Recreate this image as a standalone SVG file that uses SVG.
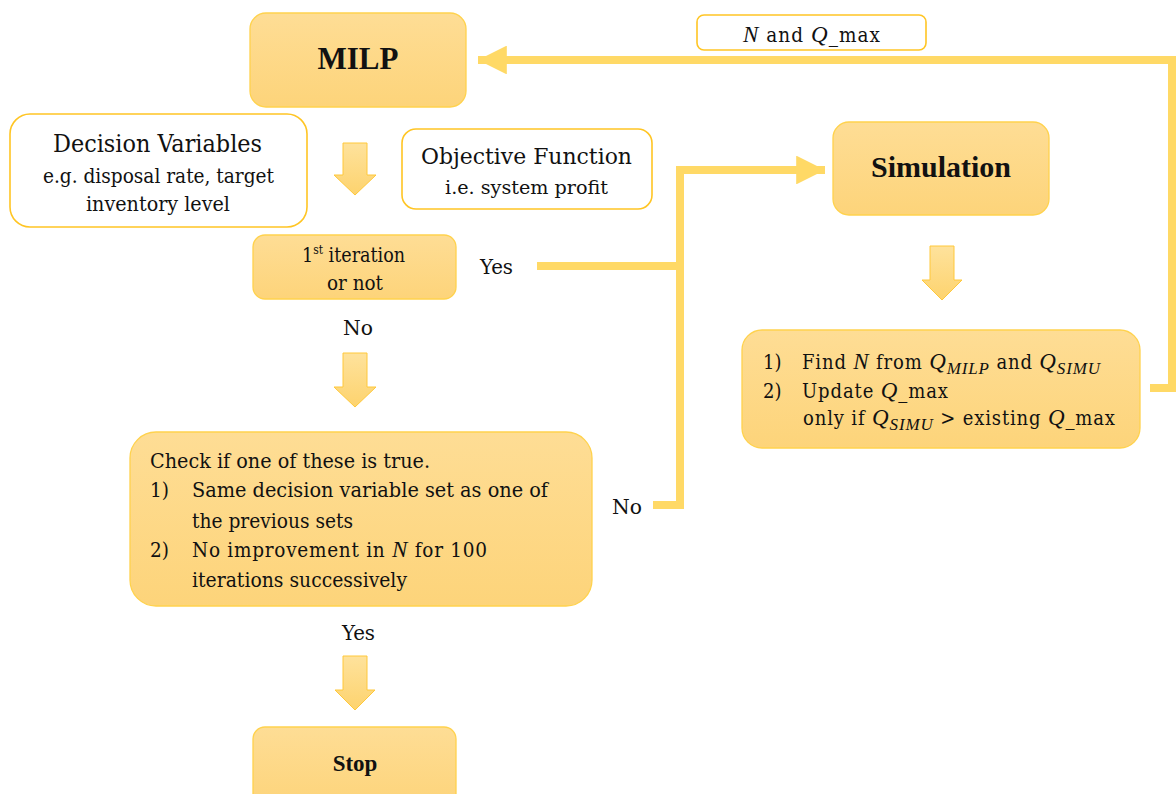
<svg xmlns="http://www.w3.org/2000/svg" width="1176" height="794" viewBox="0 0 1176 794">
  <defs>
    <linearGradient id="warm" x1="0" y1="0" x2="0" y2="1">
      <stop offset="0" stop-color="#FEDD95"/>
      <stop offset="1" stop-color="#FDD47A"/>
    </linearGradient>
    <linearGradient id="arrowFill" x1="0" y1="0" x2="0" y2="1">
      <stop offset="0" stop-color="#FEE29C"/>
      <stop offset="1" stop-color="#FDD36E"/>
    </linearGradient>
    <marker id="head" viewBox="0 0 10 10" refX="10" refY="5" markerWidth="3.6" markerHeight="3.6" orient="auto" markerUnits="strokeWidth">
      <path d="M0,0 L10,5 L0,10 Z" fill="#FFD966"/>
    </marker>
  </defs>
  <style>
    .box { fill: url(#warm); stroke: #FFD24D; stroke-width: 1.3; }
    .plain { fill: #FFFFFF; stroke: #FFC524; stroke-width: 1.6; }
    .blk { fill: url(#arrowFill); stroke: #FFC83A; stroke-width: 1; }
    .line { fill: none; stroke: #FFD966; stroke-width: 8; }
    text { fill: #111111; font-family: "DejaVu Serif Condensed", "DejaVu Serif", serif; font-stretch: condensed; }
    .title { font-family: "Liberation Serif", "Times New Roman", serif; font-weight: 700; font-stretch: normal; }
    .m { font-family: "Liberation Serif", "Times New Roman", serif; font-style: italic; font-stretch: normal; }
  </style>

  <rect width="1176" height="794" fill="#FFFFFF"/>

  <!-- connectors -->
  <g id="connectors">
    <!-- feedback from result box back to MILP -->
    <polyline class="line" points="1150,388 1172,388 1172,60 478,60" marker-end="url(#head)"/>
    <!-- Yes / No branches to Simulation -->
    <polyline class="line" points="537,266 680,266"/>
    <polyline class="line" points="653,505 680,505 680,170 825,170" marker-end="url(#head)"/>
    <!-- block arrows -->
    <path class="blk" d="M343,143 H367 V175 H376 L355,195 L334,175 H343 Z"/>
    <path class="blk" d="M930,246 H954 V280 H962 L942,300 L922,280 H930 Z"/>
    <path class="blk" d="M343,353 H367 V387 H376 L355,407 L334,387 H343 Z"/>
    <path class="blk" d="M343,656 H367 V690 H375 L355,710 L335,690 H343 Z"/>
  </g>

  <g id="milp">
    <rect class="box" x="250" y="13" width="216" height="94" rx="16"/>
    <text class="title" x="358" y="69" font-size="31" text-anchor="middle">MILP</text>
  </g>

  <g id="decision-variables">
    <rect class="plain" x="10" y="114" width="297" height="113" rx="20"/>
    <text x="53" y="152" font-size="24" textLength="209" lengthAdjust="spacingAndGlyphs">Decision Variables</text>
    <text x="43" y="183" font-size="19.5" textLength="231" lengthAdjust="spacingAndGlyphs">e.g. disposal rate, target</text>
    <text x="86" y="211" font-size="19.5" textLength="144" lengthAdjust="spacingAndGlyphs">inventory level</text>
  </g>

  <g id="objective-function">
    <rect class="plain" x="402" y="129" width="250" height="80" rx="14"/>
    <text x="421" y="164" font-size="22" textLength="211" lengthAdjust="spacingAndGlyphs">Objective Function</text>
    <text x="445" y="194" font-size="18.5" textLength="163" lengthAdjust="spacingAndGlyphs">i.e. system profit</text>
  </g>

  <g id="first-iteration">
    <rect class="box" x="253" y="235" width="203" height="64" rx="12"/>
    <text x="302" y="262" font-size="19.5">1<tspan font-size="12" dy="-8">st</tspan><tspan dy="8"> iteration</tspan></text>
    <text x="327" y="290" font-size="19.5" textLength="56" lengthAdjust="spacingAndGlyphs">or not</text>
  </g>

  <g id="branch-labels">
    <text x="480" y="274" font-size="19.5" textLength="33" lengthAdjust="spacingAndGlyphs">Yes</text>
    <text x="343" y="335" font-size="19.5" textLength="30" lengthAdjust="spacingAndGlyphs">No</text>
    <text x="612" y="514" font-size="19.5" textLength="30" lengthAdjust="spacingAndGlyphs">No</text>
    <text x="342" y="640" font-size="19.5" textLength="33" lengthAdjust="spacingAndGlyphs">Yes</text>
  </g>

  <g id="feedback-label">
    <rect class="plain" x="697" y="15" width="229" height="35" rx="7"/>
    <text x="743" y="42" font-size="20.5" textLength="137" lengthAdjust="spacing"><tspan class="m" font-size="23">N</tspan> and <tspan class="m" font-size="23">Q</tspan>_max</text>
  </g>

  <g id="simulation">
    <rect class="box" x="833" y="122" width="216" height="93" rx="16"/>
    <text class="title" x="941" y="177" font-size="30" text-anchor="middle">Simulation</text>
  </g>

  <g id="update">
    <rect class="box" x="742" y="330" width="398" height="118" rx="20"/>
    <text x="763" y="369" font-size="20">1)</text>
    <text x="802" y="369" font-size="20" textLength="298" lengthAdjust="spacing">Find <tspan class="m" font-size="23">N</tspan> from <tspan class="m" font-size="23">Q</tspan><tspan class="m" font-size="17" dy="5">MILP</tspan><tspan dy="-5"> and </tspan><tspan class="m" font-size="23">Q</tspan><tspan class="m" font-size="17" dy="5">SIMU</tspan></text>
    <text x="763" y="398" font-size="20">2)</text>
    <text x="802" y="398" font-size="20" textLength="146" lengthAdjust="spacing">Update <tspan class="m" font-size="23">Q</tspan>_max</text>
    <text x="803" y="425" font-size="20" textLength="312" lengthAdjust="spacing">only if <tspan class="m" font-size="23">Q</tspan><tspan class="m" font-size="17" dy="5">SIMU</tspan><tspan dy="-5"> &gt; existing </tspan><tspan class="m" font-size="23">Q</tspan>_max</text>
  </g>

  <g id="stop-check">
    <rect class="box" x="130" y="432" width="462" height="174" rx="26"/>
    <text x="150" y="468" font-size="20.5" textLength="280" lengthAdjust="spacingAndGlyphs">Check if one of these is true.</text>
    <text x="150" y="497" font-size="20.5">1)</text>
    <text x="192" y="497" font-size="20.5" textLength="356" lengthAdjust="spacingAndGlyphs">Same decision variable set as one of</text>
    <text x="192" y="528" font-size="20.5" textLength="161" lengthAdjust="spacingAndGlyphs">the previous sets</text>
    <text x="150" y="557" font-size="20.5">2)</text>
    <text x="192" y="557" font-size="20.5" textLength="295" lengthAdjust="spacing">No improvement in <tspan class="m" font-size="23">N</tspan> for 100</text>
    <text x="192" y="587" font-size="20.5" textLength="215" lengthAdjust="spacingAndGlyphs">iterations successively</text>
  </g>

  <g id="stop">
    <rect class="box" x="253" y="727" width="203" height="80" rx="12"/>
    <text class="title" x="355" y="771" font-size="23" text-anchor="middle">Stop</text>
  </g>
</svg>
